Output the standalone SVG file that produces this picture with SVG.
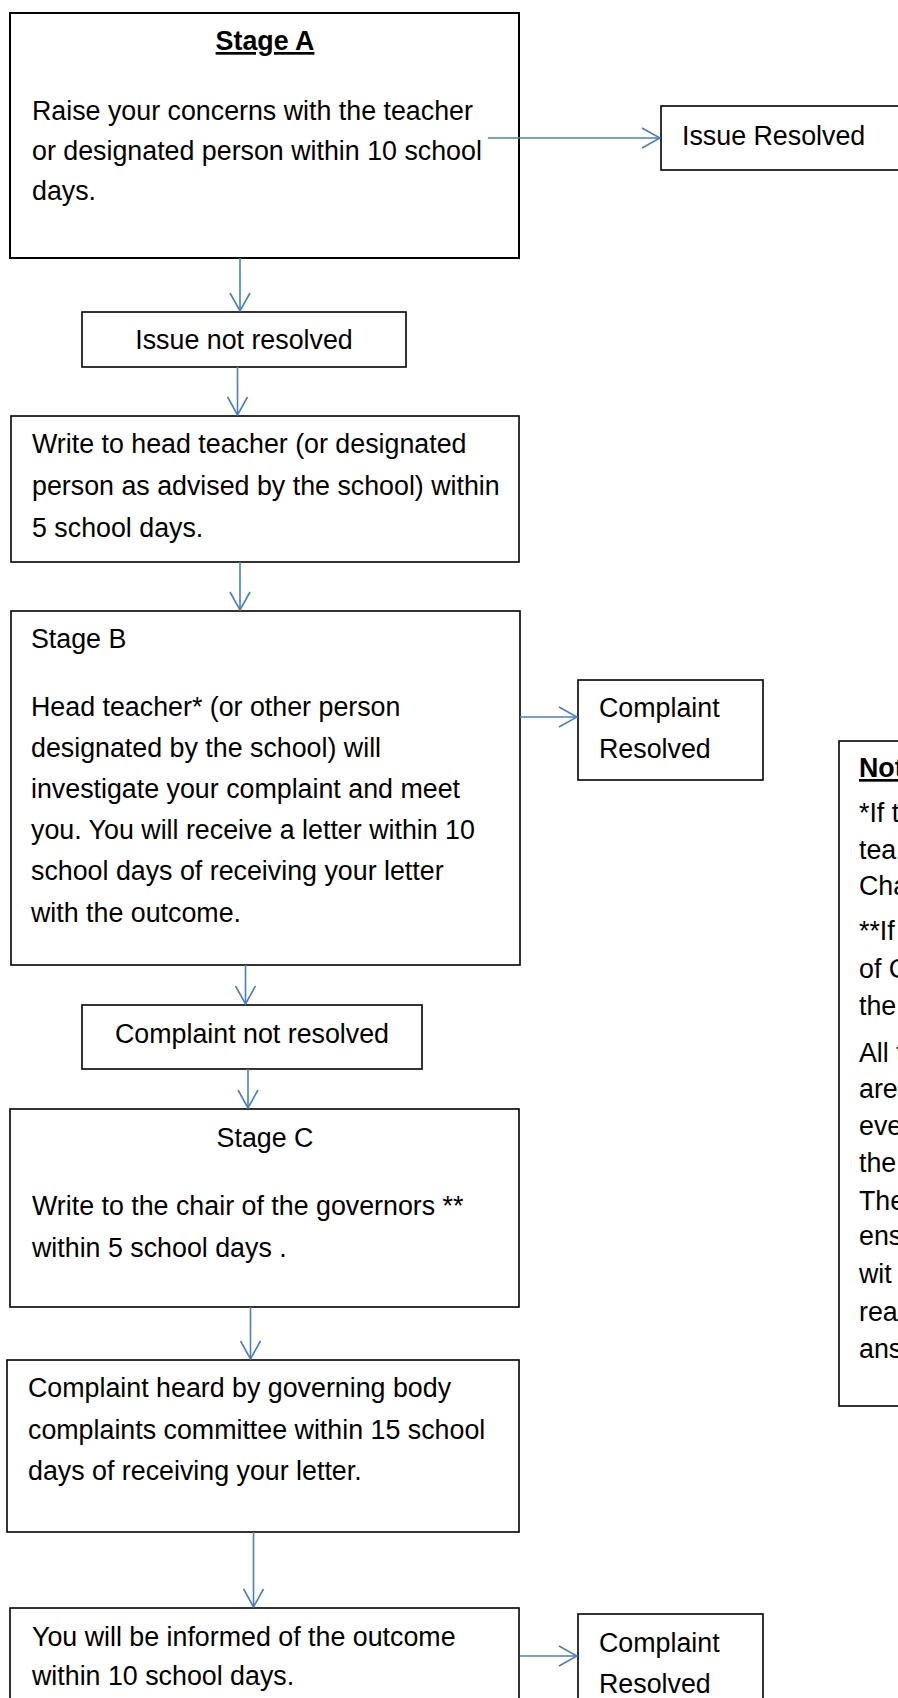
<svg xmlns="http://www.w3.org/2000/svg" width="898" height="1698" viewBox="0 0 898 1698">
<style>
.box{fill:#fff;stroke:#000;stroke-width:1.6}
.t{font-family:"Liberation Sans",Arial,sans-serif;font-size:26.8px;fill:#000}
.c{text-anchor:middle}
.b{font-weight:bold;text-decoration:underline}
.n{font-family:"Liberation Sans",Arial,sans-serif;font-size:26.8px;fill:#000}
.ar{fill:none;stroke:#4A7EBB;stroke-width:1.6}
</style>
<defs>
<marker id="ah" viewBox="0 0 20 22" refX="19" refY="11" markerWidth="20" markerHeight="22" markerUnits="userSpaceOnUse" orient="auto">
<path d="M1,1 L19,11 L1,21" fill="none" stroke="#4A7EBB" stroke-width="1.6"/>
</marker>
</defs>
<rect width="898" height="1698" fill="#fff"/>

<g id="stageA">
<rect class="box" x="10" y="13" width="509" height="245" style="stroke-width:2"/>
<text class="t c b" x="265" y="50">Stage A</text>
<text class="t" x="32" y="120">Raise your concerns with the teacher</text>
<text class="t" x="32" y="160">or designated person within 10 school</text>
<text class="t" x="32" y="200">days.</text>
</g>

<g id="issueResolved">
<rect class="box" x="661" y="106" width="260" height="64"/>
<text class="t" x="682" y="145">Issue Resolved</text>
</g>

<g id="issueNotResolved">
<rect class="box" x="82" y="312" width="324" height="55"/>
<text class="t c" x="244" y="349">Issue not resolved</text>
</g>

<g id="writeHead">
<rect class="box" x="11" y="416" width="508" height="146"/>
<text class="t" x="32" y="453">Write to head teacher (or designated</text>
<text class="t" x="32" y="495">person as advised by the school) within</text>
<text class="t" x="32" y="537">5 school days.</text>
</g>

<g id="stageB">
<rect class="box" x="11" y="611" width="509" height="354"/>
<text class="t" x="31" y="648">Stage B</text>
<text class="t" x="31" y="716">Head teacher* (or other person</text>
<text class="t" x="31" y="757">designated by the school) will</text>
<text class="t" x="31" y="798">investigate your complaint and meet</text>
<text class="t" x="31" y="839">you. You will receive a letter within 10</text>
<text class="t" x="31" y="880">school days  of receiving your letter</text>
<text class="t" x="31" y="922">with the outcome.</text>
</g>

<g id="complaintResolvedB">
<rect class="box" x="578" y="680" width="185" height="100"/>
<text class="t" x="599" y="717">Complaint</text>
<text class="t" x="599" y="758">Resolved</text>
</g>

<g id="complaintNotResolved">
<rect class="box" x="82" y="1005" width="340" height="64"/>
<text class="t c" x="252" y="1043">Complaint not resolved</text>
</g>

<g id="stageC">
<rect class="box" x="10" y="1109" width="509" height="198"/>
<text class="t c" x="265" y="1147">Stage C</text>
<text class="t" x="32" y="1215">Write to the chair of the governors **</text>
<text class="t" x="32" y="1257">within 5 school days .</text>
</g>

<g id="committee">
<rect class="box" x="7" y="1360" width="512" height="172"/>
<text class="t" x="28" y="1397">Complaint heard by governing body</text>
<text class="t" x="28" y="1439">complaints committee within 15 school</text>
<text class="t" x="28" y="1480">days of receiving your letter.</text>
</g>

<g id="outcome">
<rect class="box" x="10" y="1608" width="509" height="120"/>
<text class="t" x="32" y="1646">You will be informed of the outcome</text>
<text class="t" x="32" y="1685">within 10 school days.</text>
</g>

<g id="complaintResolvedFinal">
<rect class="box" x="578" y="1614" width="185" height="120"/>
<text class="t" x="599" y="1652">Complaint</text>
<text class="t" x="599" y="1693">Resolved</text>
</g>

<g id="notes">
<rect class="box" x="839" y="741" width="100" height="665"/>
<text class="n b" x="859" y="777">Not</text>
<text class="n" x="859" y="822">*If t</text>
<text class="n" x="859" y="859">tea</text>
<text class="n" x="859" y="895">Cha</text>
<text class="n" x="859" y="940">**If</text>
<text class="n" x="859" y="978">of C</text>
<text class="n" x="859" y="1015">the</text>
<text class="n" x="859" y="1062">All t</text>
<text class="n" x="859" y="1098">are</text>
<text class="n" x="859" y="1135">eve</text>
<text class="n" x="859" y="1172">the</text>
<text class="n" x="859" y="1210">The</text>
<text class="n" x="859" y="1245">ens</text>
<text class="n" x="859" y="1283">wit</text>
<text class="n" x="859" y="1321">rea</text>
<text class="n" x="859" y="1358">ans</text>
</g>

<g id="connectors">
<line class="ar" x1="488" y1="138" x2="660" y2="138" marker-end="url(#ah)"/>
<line class="ar" x1="240" y1="258" x2="240" y2="311" marker-end="url(#ah)"/>
<line class="ar" x1="237.5" y1="367" x2="237.5" y2="415" marker-end="url(#ah)"/>
<line class="ar" x1="240" y1="562" x2="240" y2="610" marker-end="url(#ah)"/>
<line class="ar" x1="520" y1="717" x2="577" y2="717" marker-end="url(#ah)"/>
<line class="ar" x1="245.5" y1="965" x2="245.5" y2="1004" marker-end="url(#ah)"/>
<line class="ar" x1="248" y1="1069" x2="248" y2="1108" marker-end="url(#ah)"/>
<line class="ar" x1="250.5" y1="1307" x2="250.5" y2="1359" marker-end="url(#ah)"/>
<line class="ar" x1="253.5" y1="1532" x2="253.5" y2="1607" marker-end="url(#ah)"/>
<line class="ar" x1="520" y1="1656" x2="577" y2="1656" marker-end="url(#ah)"/>
</g>
</svg>
